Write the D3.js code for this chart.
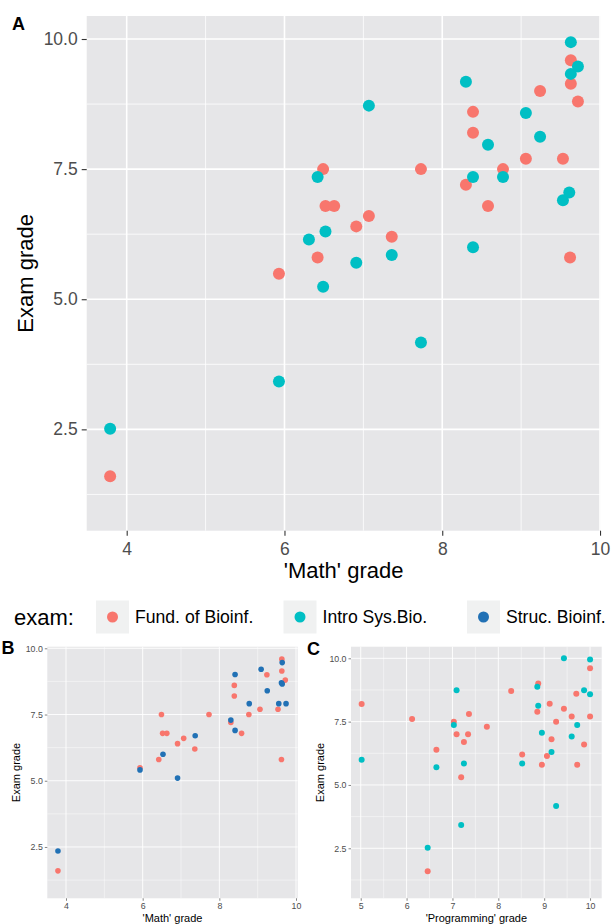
<!DOCTYPE html>
<html><head><meta charset="utf-8">
<script src="https://cdn.jsdelivr.net/npm/d3@7"></script>
<style>
body{margin:0;background:#fff}
svg{display:block}
text{font-family:"Liberation Sans",Arial,Helvetica,sans-serif}
</style>
</head><body>
<svg id="chart" width="612" height="924"></svg>
<script>
// ---------- data ----------
const examLevels = ["Fund. of Bioinf.", "Intro Sys.Bio.", "Struc. Bioinf."];
const examColors = ["#F8766D", "#00BFC4", "#2171B5"];

// 'Math' grade vs exam grade
const mathFund = [3.79, 5.93, 6.42, 6.49, 6.52, 6.63, 6.91, 7.07, 7.36, 7.73, 8.30, 8.39, 8.39, 8.58, 8.77, 9.06, 9.24, 9.53, 9.63, 9.63, 9.72, 9.62];
const examFundMath = [1.60, 5.49, 5.80, 7.50, 6.79, 6.79, 6.40, 6.60, 6.20, 7.50, 7.20, 8.60, 8.20, 6.79, 7.50, 7.70, 9.00, 7.70, 9.59, 9.14, 8.80, 5.80];
const mathSys = [3.79, 5.93, 6.31, 6.42, 6.49, 6.52, 6.91, 7.07, 7.36, 7.73, 8.30, 8.39, 8.39, 8.58, 8.77, 9.06, 9.24, 9.53, 9.61, 9.63, 9.72, 9.63];
const examSysMath = [2.51, 3.42, 6.15, 7.35, 5.24, 6.30, 5.70, 8.72, 5.85, 4.17, 9.18, 7.35, 6.00, 7.97, 7.35, 8.58, 8.12, 6.90, 7.05, 9.94, 9.47, 9.33];
const mathStruc = [3.79, 5.93, 6.53, 6.91, 7.37, 8.30, 8.41, 8.41, 8.78, 9.09, 9.25, 9.55, 9.64, 9.62, 9.64, 9.74];
const examStrucMath = [2.35, 5.41, 6.00, 5.10, 6.70, 7.29, 9.01, 6.90, 7.91, 9.21, 8.40, 7.91, 9.46, 8.70, 8.65, 7.91];

// 'Programming' grade vs exam grade
const progFund = [5.02, 6.12, 7.36, 7.03, 7.09, 7.34, 7.25, 6.65, 7.19, 6.46, 10.0, 8.87, 8.28, 9.70, 9.12, 8.85, 9.43, 9.60, 10.0, 9.26, 7.75, 9.16, 9.87, 8.52, 9.06, 8.95, 9.72];
const examFundProg = [8.20, 7.60, 7.80, 7.50, 7.00, 7.00, 6.70, 6.39, 5.30, 1.59, 9.61, 9.01, 8.71, 8.60, 8.21, 7.89, 8.01, 7.70, 7.70, 7.50, 7.30, 6.80, 6.60, 6.20, 6.14, 5.80, 5.80];
const progSys = [5.02, 7.09, 7.03, 7.25, 6.65, 7.19, 6.46, 9.43, 10.0, 8.85, 9.87, 10.0, 8.87, 9.72, 8.95, 9.60, 9.16, 8.52, 9.26];
const examSysProg = [6.00, 8.74, 7.37, 5.85, 5.70, 3.42, 2.52, 10.0, 9.95, 8.88, 8.74, 8.58, 8.13, 7.37, 7.06, 6.91, 6.30, 5.85, 4.17];

// ticks
const mathTicks = [4, 6, 8, 10];
const mathMinor = [5, 7, 9];
const progTicks = [5, 6, 7, 8, 9, 10];
const progMinor = [5.5, 6.5, 7.5, 8.5, 9.5];
const examTicks = [2.5, 5, 7.5, 10];
const examTickLabels = ["2.5", "5.0", "7.5", "10.0"];
const examMinor = [1.25, 3.75, 6.25, 8.75];

const pair = (xs, ys) => xs.map((x, i) => ({x: x, y: ys[i]}));

const svg = d3.select("#chart");

function panel(cfg) {
  const x = d3.scaleLinear().domain(cfg.xDom).range([cfg.left, cfg.right]);
  const y = d3.scaleLinear().domain(cfg.yDom).range([cfg.bottom, cfg.top]);
  const g = svg.append("g");
  g.append("rect").attr("x", cfg.left).attr("y", cfg.top)
    .attr("width", cfg.right - cfg.left).attr("height", cfg.bottom - cfg.top)
    .attr("fill", "#E6E6E8");
  // minor grid
  g.selectAll(".mx").data(cfg.xMinor).join("line")
    .attr("x1", d => x(d)).attr("x2", d => x(d)).attr("y1", cfg.top).attr("y2", cfg.bottom)
    .attr("stroke", "#fff").attr("stroke-width", cfg.minorW);
  g.selectAll(".my").data(examMinor.filter(v => v > cfg.yDom[0] && v < cfg.yDom[1])).join("line")
    .attr("y1", d => y(d)).attr("y2", d => y(d)).attr("x1", cfg.left).attr("x2", cfg.right)
    .attr("stroke", "#fff").attr("stroke-width", cfg.minorW);
  // major grid
  g.selectAll(".Mx").data(cfg.xTicks).join("line")
    .attr("x1", d => x(d)).attr("x2", d => x(d)).attr("y1", cfg.top).attr("y2", cfg.bottom)
    .attr("stroke", "#fff").attr("stroke-width", cfg.majorW);
  g.selectAll(".My").data(examTicks).join("line")
    .attr("y1", d => y(d)).attr("y2", d => y(d)).attr("x1", cfg.left).attr("x2", cfg.right)
    .attr("stroke", "#fff").attr("stroke-width", cfg.majorW);
  // points
  cfg.series.forEach(s => {
    g.append("g").selectAll("circle").data(s.data).join("circle")
      .attr("cx", d => x(d.x)).attr("cy", d => y(d.y)).attr("r", cfg.r)
      .attr("fill", examColors[s.k]);
  });
  // axes
  const ax = g.append("g").attr("transform", `translate(0,${cfg.bottom})`)
    .call(d3.axisBottom(x).tickValues(cfg.xTicks).tickFormat(d3.format("d"))
      .tickSize(cfg.tick).tickPadding(cfg.xPad).tickSizeOuter(0));
  const ay = g.append("g").attr("transform", `translate(${cfg.left},0)`)
    .call(d3.axisLeft(y).tickValues(examTicks).tickFormat((d, i) => examTickLabels[i])
      .tickSize(cfg.tick).tickPadding(cfg.yPad).tickSizeOuter(0));
  [ax, ay].forEach(a => {
    a.select(".domain").remove();
    a.selectAll(".tick line").attr("stroke", "#333").attr("stroke-width", cfg.tickW);
    a.selectAll(".tick text").attr("fill", "#4D4D4D").attr("font-size", cfg.tickFs)
      .attr("font-family", '"Liberation Sans",Arial,sans-serif');
  });
  // titles
  g.append("text").attr("x", (cfg.left + cfg.right) / 2).attr("y", cfg.xTitleY)
    .attr("text-anchor", "middle").attr("font-size", cfg.titleFs).attr("fill", "#000")
    .text(cfg.xTitle);
  g.append("text").attr("transform", `translate(${cfg.yTitleX},${(cfg.top + cfg.bottom) / 2}) rotate(-90)`)
    .attr("text-anchor", "middle").attr("font-size", cfg.titleFs).attr("fill", "#000")
    .text("Exam grade");
  g.append("text").attr("x", cfg.tagX).attr("y", cfg.tagY).attr("font-size", 18)
    .attr("font-weight", "bold").attr("fill", "#000").text(cfg.tag);
}

// Panel A
panel({
  left: 86.7, right: 600.5, top: 16, bottom: 530.7,
  xDom: [3.493, 10.006], yDom: [0.553, 10.442],
  xTicks: mathTicks, xMinor: mathMinor,
  series: [{k: 0, data: pair(mathFund, examFundMath)}, {k: 1, data: pair(mathSys, examSysMath)}],
  r: 6, majorW: 1.6, minorW: 0.8, tick: 5, tickW: 1.1, xPad: 7, yPad: 4,
  tickFs: 17.5, titleFs: 22, xTitle: "'Math' grade", xTitleY: 578, yTitleX: 32.5,
  tag: "A", tagX: 12, tagY: 30
});

// Panel B
panel({
  left: 47.3, right: 297.7, top: 646.7, bottom: 898.3,
  xDom: [3.512, 10.044], yDom: [0.563, 10.06],
  xTicks: mathTicks, xMinor: mathMinor,
  series: [{k: 0, data: pair(mathFund, examFundMath)}, {k: 2, data: pair(mathStruc, examStrucMath)}],
  r: 2.8, majorW: 0.9, minorW: 0.45, tick: 2.5, tickW: 0.6, xPad: 2, yPad: 2,
  tickFs: 8.8, titleFs: 11, xTitle: "'Math' grade", xTitleY: 922, yTitleX: 19.5,
  tag: "B", tagX: 1.5, tagY: 654
});

// Panel C
panel({
  left: 351, right: 601.7, top: 646.7, bottom: 898.3,
  xDom: [4.788, 10.254], yDom: [0.526, 10.458],
  xTicks: progTicks, xMinor: progMinor,
  series: [{k: 0, data: pair(progFund, examFundProg)}, {k: 1, data: pair(progSys, examSysProg)}],
  r: 3, majorW: 0.9, minorW: 0.45, tick: 2.5, tickW: 0.6, xPad: 2, yPad: 2,
  tickFs: 8.8, titleFs: 11, xTitle: "'Programming' grade", xTitleY: 922, yTitleX: 324,
  tag: "C", tagX: 307, tagY: 655
});

// Legend
const legend = svg.append("g");
const legendY = 617;
legend.append("text").attr("x", 14).attr("y", legendY).attr("dy", "0.35em")
  .attr("font-size", 22).attr("fill", "#000").text("exam:");
const keyCenters = [112.5, 300, 483.5];
examLevels.forEach((lab, i) => {
  const cx = keyCenters[i];
  legend.append("rect").attr("x", cx - 16.5).attr("y", legendY - 16.5)
    .attr("width", 33).attr("height", 33).attr("fill", "#F0F1F1");
  legend.append("circle").attr("cx", cx).attr("cy", legendY).attr("r", 5.5)
    .attr("fill", examColors[i]);
  legend.append("text").attr("x", cx + 22.5).attr("y", legendY).attr("dy", "0.35em")
    .attr("font-size", 17.6).attr("fill", "#000").text(lab);
});
</script>
</body></html>
